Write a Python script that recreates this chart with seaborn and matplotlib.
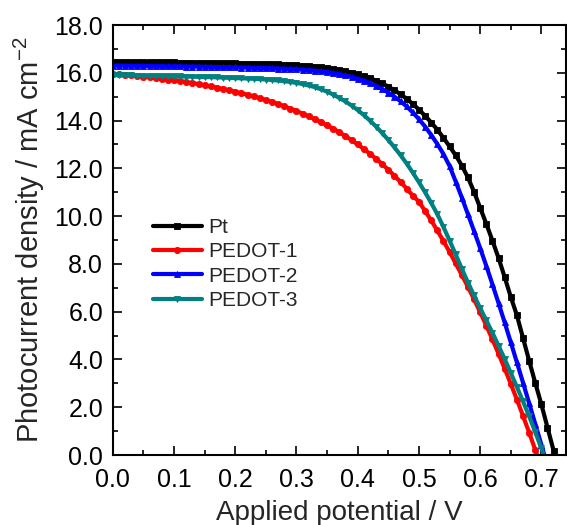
import numpy as np
import pandas as pd
import matplotlib
matplotlib.use("Agg")
import matplotlib.pyplot as plt
import seaborn as sns
from matplotlib.ticker import MultipleLocator, FormatStrFormatter

# Applied potential (V), 0.01 V steps
v_pt = [0.00,0.01,0.02,0.03,0.04,0.05,0.06,0.07,0.08,0.09,0.10,0.11,0.12,0.13,0.14,0.15,0.16,0.17,0.18,0.19,
        0.20,0.21,0.22,0.23,0.24,0.25,0.26,0.27,0.28,0.29,0.30,0.31,0.32,0.33,0.34,0.35,0.36,0.37,0.38,0.39,
        0.40,0.41,0.42,0.43,0.44,0.45,0.46,0.47,0.48,0.49,0.50,0.51,0.52,0.53,0.54,0.55,0.56,0.57,0.58,0.59,
        0.60,0.61,0.62,0.63,0.64,0.65,0.66,0.67,0.68,0.69,0.70,0.71,0.72,0.73]
j_pt = [16.46,16.46,16.46,16.45,16.45,16.45,16.45,16.44,16.44,16.44,16.44,16.43,16.43,16.43,16.42,16.42,16.42,16.41,16.41,16.40,
        16.40,16.39,16.39,16.38,16.37,16.37,16.36,16.35,16.34,16.33,16.32,16.30,16.28,16.26,16.23,16.20,16.16,16.12,16.07,16.01,
        15.94,15.86,15.78,15.67,15.56,15.42,15.27,15.10,14.91,14.70,14.46,14.20,13.92,13.62,13.28,12.92,12.55,12.12,11.62,11.02,
        10.35,9.68,8.98,8.25,7.45,6.62,5.85,4.90,3.95,3.02,2.12,1.15,0.18,-0.80]

v_p1 = [0.00,0.01,0.02,0.03,0.04,0.05,0.06,0.07,0.08,0.09,0.10,0.11,0.12,0.13,0.14,0.15,0.16,0.17,0.18,0.19,
        0.20,0.21,0.22,0.23,0.24,0.25,0.26,0.27,0.28,0.29,0.30,0.31,0.32,0.33,0.34,0.35,0.36,0.37,0.38,0.39,
        0.40,0.41,0.42,0.43,0.44,0.45,0.46,0.47,0.48,0.49,0.50,0.51,0.52,0.53,0.54,0.55,0.56,0.57,0.58,0.59,
        0.60,0.61,0.62,0.63,0.64,0.65,0.66,0.67,0.68,0.69,0.70]
j_p1 = [15.95,15.93,15.91,15.89,15.86,15.84,15.81,15.78,15.75,15.72,15.69,15.65,15.61,15.57,15.53,15.48,15.43,15.38,15.33,15.27,
        15.21,15.15,15.08,15.01,14.94,14.86,14.78,14.69,14.60,14.50,14.40,14.29,14.18,14.06,13.93,13.80,13.66,13.51,13.35,13.18,
        13.00,12.81,12.61,12.40,12.18,11.94,11.69,11.43,11.15,10.86,10.60,10.22,9.82,9.40,8.96,8.50,8.02,7.54,7.04,6.52,
        5.98,5.42,4.84,4.24,3.62,2.98,2.32,1.64,0.94,0.22,-0.52]

v_p2 = [0.00,0.01,0.02,0.03,0.04,0.05,0.06,0.07,0.08,0.09,0.10,0.11,0.12,0.13,0.14,0.15,0.16,0.17,0.18,0.19,
        0.20,0.21,0.22,0.23,0.24,0.25,0.26,0.27,0.28,0.29,0.30,0.31,0.32,0.33,0.34,0.35,0.36,0.37,0.38,0.39,
        0.40,0.41,0.42,0.43,0.44,0.45,0.46,0.47,0.48,0.49,0.50,0.51,0.52,0.53,0.54,0.55,0.56,0.57,0.58,0.59,
        0.60,0.61,0.62,0.63,0.64,0.65,0.66,0.67,0.68,0.69,0.70,0.71]
j_p2 = [16.30,16.30,16.30,16.29,16.29,16.29,16.28,16.28,16.28,16.27,16.27,16.27,16.26,16.26,16.26,16.25,16.25,16.24,16.24,16.23,
        16.23,16.22,16.22,16.21,16.20,16.20,16.19,16.18,16.17,16.16,16.15,16.13,16.11,16.09,16.06,16.03,15.99,15.94,15.89,15.82,
        15.74,15.66,15.56,15.45,15.32,15.17,15.00,14.81,14.59,14.34,14.06,13.75,13.40,13.02,12.60,12.10,11.45,10.78,10.08,9.38,
        8.66,7.92,7.15,6.36,5.55,4.72,3.88,3.03,2.17,1.30,0.43,-0.45]

v_p3 = [0.00,0.01,0.02,0.03,0.04,0.05,0.06,0.07,0.08,0.09,0.10,0.11,0.12,0.13,0.14,0.15,0.16,0.17,0.18,0.19,
        0.20,0.21,0.22,0.23,0.24,0.25,0.26,0.27,0.28,0.29,0.30,0.31,0.32,0.33,0.34,0.35,0.36,0.37,0.38,0.39,
        0.40,0.41,0.42,0.43,0.44,0.45,0.46,0.47,0.48,0.49,0.50,0.51,0.52,0.53,0.54,0.55,0.56,0.57,0.58,0.59,
        0.60,0.61,0.62,0.63,0.64,0.65,0.66,0.67,0.68,0.69,0.70,0.71]
j_p3 = [15.90,15.90,15.89,15.89,15.88,15.88,15.87,15.87,15.86,15.86,15.85,15.85,15.84,15.84,15.83,15.82,15.82,15.81,15.80,15.79,
        15.78,15.77,15.76,15.75,15.74,15.72,15.70,15.68,15.65,15.62,15.58,15.53,15.47,15.40,15.31,15.21,15.09,14.95,14.80,14.63,
        14.44,14.23,14.00,13.75,13.48,13.19,12.88,12.55,12.20,11.82,11.42,11.00,10.56,10.08,9.55,8.98,8.40,7.80,7.22,6.68,
        6.15,5.64,5.12,4.58,4.02,3.44,2.85,2.25,1.62,0.96,0.28,-0.42]

labels = ["Pt", "PEDOT-1", "PEDOT-2", "PEDOT-3"]
colors = ["#000000", "#ff0000", "#0000ff", "#008080"]
markers = ["s", "o", "^", "v"]
x_ticks = [0.0, 0.1, 0.2, 0.3, 0.4, 0.5, 0.6, 0.7]
y_ticks = [0.0, 2.0, 4.0, 6.0, 8.0, 10.0, 12.0, 14.0, 16.0, 18.0]

sns.set_style("ticks")
plt.rcParams["font.family"] = ["Liberation Sans", "DejaVu Sans"]
plt.rcParams["mathtext.fontset"] = "custom"
plt.rcParams["mathtext.rm"] = "Liberation Sans"
plt.rcParams["mathtext.it"] = "Liberation Sans"

fig = plt.figure(figsize=(5.67, 5.25), dpi=100)
ax = fig.add_axes([0.199, 0.1333, 0.799, 0.819])

series = [(v_pt, j_pt), (v_p1, j_p1), (v_p2, j_p2), (v_p3, j_p3)]
for (vx, jy), lab, col, mk in zip(series, labels, colors, markers):
    df = pd.DataFrame({"V": vx, "J": jy})
    sns.lineplot(data=df, x="V", y="J", ax=ax, color=col, marker=mk,
                 markersize=4.5, markeredgewidth=0.6, markeredgecolor=col,
                 linewidth=3.0, label=lab, sort=False)

ax.set_xlim(0.0, 0.74)
ax.set_ylim(0.0, 18.0)
ax.set_xticks(x_ticks)
ax.set_yticks(y_ticks)
ax.xaxis.set_minor_locator(MultipleLocator(0.05))
ax.yaxis.set_minor_locator(MultipleLocator(1.0))
ax.xaxis.set_major_formatter(FormatStrFormatter("%.1f"))
ax.yaxis.set_major_formatter(FormatStrFormatter("%.1f"))
ax.tick_params(which="both", direction="in", top=True, right=True, width=1.2, colors="black")
ax.tick_params(which="major", length=6.5, labelsize=18)
ax.tick_params(axis="y", which="major", pad=7)
ax.tick_params(axis="x", which="major", pad=9)
ax.tick_params(which="minor", length=3.5)
for s in ax.spines.values():
    s.set_linewidth(1.5)
    s.set_color("black")

ax.set_xlabel("Applied potential / V", fontsize=20, labelpad=6)
ax.set_ylabel("Photocurrent density / mA cm$^{-2}$", fontsize=21, labelpad=5)

leg = ax.legend(loc="upper left", bbox_to_anchor=(0.07, 0.57), frameon=False,
                fontsize=15, handlelength=2.35, handletextpad=0.3, labelspacing=0.25,
                borderaxespad=0)

fig.savefig("out.png", dpi=100)
